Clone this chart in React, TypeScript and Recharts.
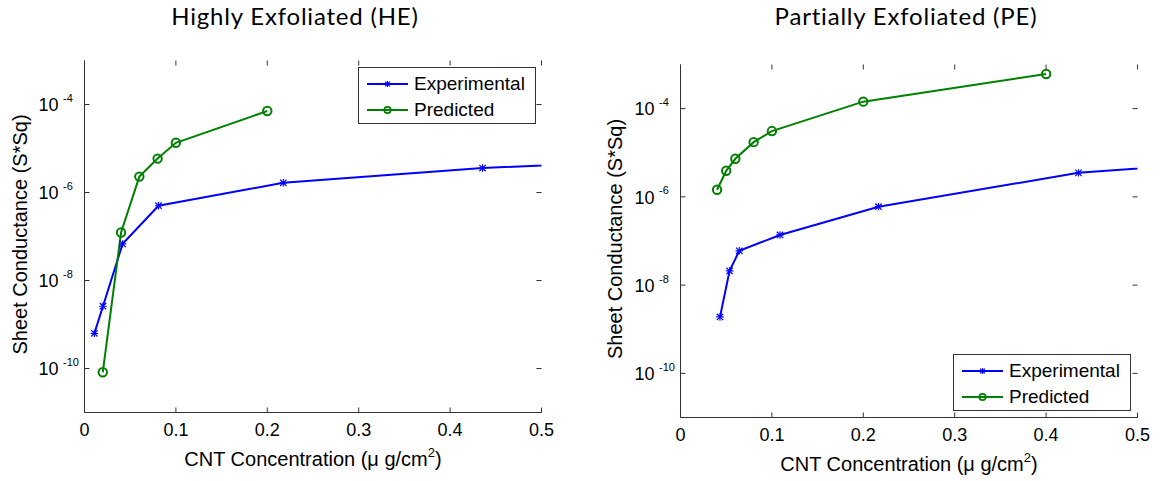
import React from 'react';
import { LineChart, Line, XAxis, YAxis, Legend, Label } from 'recharts';

// concentration ticks and log ticks
const xTicks = [0, 0.1, 0.2, 0.3, 0.4, 0.5];
const yTicks = [1e-10, 1e-8, 1e-6, 1e-4];

// Highly Exfoliated (HE)
const heExpX = [0.0108, 0.0202, 0.0417, 0.081, 0.2175, 0.4355, 0.87];
const heExpY = [6.3e-10, 2.6e-9, 6.8e-8, 5e-7, 1.66e-6, 3.6e-6, 9e-6];
const hePredX = [0.02, 0.04, 0.06, 0.08, 0.1, 0.2];
const hePredY = [8.2e-11, 1.23e-7, 2.3e-6, 5.9e-6, 1.35e-5, 7.1e-5];

// Partially Exfoliated (PE)
const peExpX = [0.0432, 0.0537, 0.0643, 0.1089, 0.2166, 0.4354, 0.87];
const peExpY = [1.9e-9, 2.1e-8, 6e-8, 1.37e-7, 6e-7, 3.5e-6, 1.6e-5];
const pePredX = [0.04, 0.05, 0.06, 0.08, 0.1, 0.2, 0.4];
const pePredY = [1.45e-6, 3.9e-6, 7.3e-6, 1.74e-5, 3.1e-5, 1.44e-4, 6.1e-4];

const BLUE = '#0000ff';
const GREEN = '#008000';
const AXIS = '#333333';
const SANS = '"Liberation Sans", Arial, sans-serif';
const TITLE_FONT = 'Lato, "Open Sans", sans-serif';

const toPoints = (xs: number[], ys: number[]) => xs.map((x, i) => ({ x, y: ys[i] }));

const Star = ({ cx, cy, s = 3.2 }: { cx: number; cy: number; s?: number }) => (
  <g stroke={BLUE} strokeWidth={1.2}>
    <line x1={cx - s} y1={cy - s} x2={cx + s} y2={cy + s} />
    <line x1={cx - s} y1={cy + s} x2={cx + s} y2={cy - s} />
    <line x1={cx - s - 0.5} y1={cy} x2={cx + s + 0.5} y2={cy} />
    <line x1={cx} y1={cy - s - 0.5} x2={cx} y2={cy + s + 0.5} />
  </g>
);

const starDot = (p: any) => (p.cx == null ? <g key={p.index} /> : <Star key={p.index} cx={p.cx} cy={p.cy} />);
const circleDot = (p: any) =>
  p.cx == null ? <g key={p.index} /> : (
    <circle key={p.index} cx={p.cx} cy={p.cy} r={4.2} fill="none" stroke={GREEN} strokeWidth={2} />
  );

const LegendBox = ({ payload }: any) => (
  <div
    style={{
      width: 178,
      height: 57,
      boxSizing: 'border-box',
      border: `1px solid ${AXIS}`,
      background: '#fff',
      position: 'relative',
      fontFamily: SANS,
      fontSize: 19,
      color: '#000',
    }}
  >
    {(payload || []).map((entry: any, i: number) => {
      const isExp = entry.value === 'Experimental';
      return (
        <div key={entry.value} style={{ position: 'absolute', left: 0, top: 3 + i * 26, height: 26, width: 176 }}>
          <svg width={50} height={26} style={{ position: 'absolute', left: 0, top: 0 }}>
            <line x1={8} x2={49} y1={13} y2={13} stroke={entry.color} strokeWidth={2} />
            {isExp ? (
              <Star cx={28.5} cy={13} s={2.4} />
            ) : (
              <circle cx={28.5} cy={13} r={3.2} fill="none" stroke={GREEN} strokeWidth={1.8} />
            )}
          </svg>
          <span style={{ position: 'absolute', left: 55, top: 0, lineHeight: '26px', whiteSpace: 'nowrap' }}>
            {entry.value}
          </span>
        </div>
      );
    })}
  </div>
);

interface PanelProps {
  title: string;
  titleX: number;
  titleY: number;
  exp: { x: number; y: number }[];
  pred: { x: number; y: number }[];
  left: number;
  right: number;
  top: number;
  bottom: number;
  yLabelX: number;
  legendX: number;
  legendY: number;
}

const W = 580;
const H = 481;

function Panel(p: PanelProps) {
  const plotLeft = p.left;
  const plotRight = W - p.right;
  const plotTop = p.top;
  const plotBottom = H - p.bottom;
  const midX = (plotLeft + plotRight) / 2;
  const midY = (plotTop + plotBottom) / 2;

  // bottom ticks also draw the matching inward tick on the top edge
  const BottomTick = ({ x, y, payload }: any) => (
    <g>
      <line x1={x} x2={x} y1={y} y2={y - 5} stroke={AXIS} />
      <line x1={x} x2={x} y1={plotTop} y2={plotTop + 5} stroke={AXIS} />
      <text x={x} y={y + 23.5} textAnchor="middle" fontFamily={SANS} fontSize={18} fill="#000">
        {String(payload.value)}
      </text>
    </g>
  );
  // left ticks also draw the matching inward tick on the right edge
  const LeftTick = ({ x, y, payload }: any) => {
    const exp = Math.round(Math.log10(payload.value));
    return (
      <g>
        <line x1={x} x2={x + 5} y1={y} y2={y} stroke={AXIS} />
        <line x1={plotRight} x2={plotRight - 5} y1={y} y2={y} stroke={AXIS} />
        <text x={x - 46} y={y + 6.7} fontFamily={SANS} fontSize={18} fill="#000">
          10
        </text>
        <text x={x - 21.5} y={y - 2.5} fontFamily={SANS} fontSize={11} fill="#000">
          {String(exp)}
        </text>
      </g>
    );
  };

  return (
    <LineChart width={W} height={H} margin={{ top: p.top, right: p.right, bottom: 0, left: 0 }}>
      <XAxis
        xAxisId="b"
        dataKey="x"
        type="number"
        domain={[0, 0.5]}
        ticks={xTicks}
        allowDataOverflow
        height={p.bottom}
        tickSize={0}
        tickMargin={0}
        tickLine={false}
        tick={BottomTick}
        axisLine={{ stroke: AXIS }}
        interval={0}
      >
        <Label
          content={() => (
            <g>
              <text
                x={p.titleX}
                y={p.titleY}
                textAnchor="middle"
                fontFamily={TITLE_FONT}
                fontSize={24}
                letterSpacing={0.8}
                fill="#000"
              >
                {p.title}
              </text>
              <text x={midX} y={plotBottom + 53.5} textAnchor="middle" fontFamily={SANS} fontSize={20} fill="#000">
                CNT Concentration (μ g/cm
                <tspan dy={-9} fontSize={13}>
                  2
                </tspan>
                <tspan dy={9}>)</tspan>
              </text>
            </g>
          )}
        />
      </XAxis>
      <XAxis
        xAxisId="t"
        orientation="top"
        type="number"
        domain={[0, 0.5]}
        ticks={xTicks}
        allowDataOverflow
        height={0}
        tick={false}
        tickLine={false}
        axisLine={{ stroke: AXIS }}
      />
      <YAxis
        yAxisId="l"
        dataKey="y"
        scale="log"
        type="number"
        domain={[1e-11, 1e-3]}
        ticks={yTicks}
        allowDataOverflow
        width={p.left}
        tickSize={0}
        tickMargin={0}
        tickLine={false}
        tick={LeftTick}
        axisLine={{ stroke: AXIS }}
        interval={0}
      >
        <Label
          content={() => (
            <text
              x={p.yLabelX}
              y={midY - 2}
              textAnchor="middle"
              dominantBaseline="central"
              transform={`rotate(-90, ${p.yLabelX}, ${midY - 2})`}
              fontFamily={SANS}
              fontSize={20}
              fill="#000"
            >
              Sheet Conductance (S*Sq)
            </text>
          )}
        />
      </YAxis>
      <YAxis
        yAxisId="r"
        orientation="right"
        scale="log"
        type="number"
        domain={[1e-11, 1e-3]}
        ticks={yTicks}
        allowDataOverflow
        width={0}
        tick={false}
        tickLine={false}
        axisLine={{ stroke: AXIS }}
      />
      <Line
        xAxisId="b"
        yAxisId="l"
        data={p.exp}
        dataKey="y"
        name="Experimental"
        stroke={BLUE}
        strokeWidth={2}
        dot={starDot}
        activeDot={false}
        isAnimationActive={false}
      />
      <Line
        xAxisId="b"
        yAxisId="l"
        data={p.pred}
        dataKey="y"
        name="Predicted"
        stroke={GREEN}
        strokeWidth={2}
        dot={circleDot}
        activeDot={false}
        isAnimationActive={false}
      />
      <Legend
        layout="vertical"
        align="center"
        verticalAlign="middle"
        content={LegendBox}
        wrapperStyle={{
          position: 'absolute',
          left: p.legendX,
          top: p.legendY,
          right: 'auto',
          bottom: 'auto',
          width: 178,
          height: 57,
          margin: 0,
          padding: 0,
        }}
      />
    </LineChart>
  );
}

export default function App() {
  return (
    <div style={{ position: 'absolute', left: 0, top: 0, width: 1160, height: 481, background: '#fff', display: 'flex' }}>
      <Panel
        title="Highly Exfoliated (HE)"
        titleX={295}
        titleY={24.5}
        exp={toPoints(heExpX, heExpY)}
        pred={toPoints(hePredX, hePredY)}
        left={84.5}
        right={38.5}
        top={60.5}
        bottom={68.5}
        yLabelX={20}
        legendX={358}
        legendY={67}
      />
      <Panel
        title="Partially Exfoliated (PE)"
        titleX={326}
        titleY={25}
        exp={toPoints(peExpX, peExpY)}
        pred={toPoints(pePredX, pePredY)}
        left={100.5}
        right={22.5}
        top={64.5}
        bottom={63.5}
        yLabelX={35}
        legendX={373}
        legendY={354}
      />
    </div>
  );
}
